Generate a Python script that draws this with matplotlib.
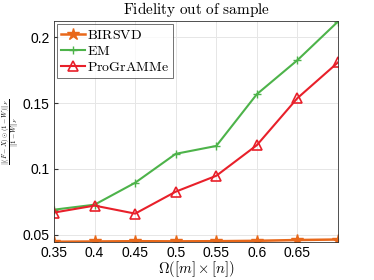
import matplotlib

matplotlib.use("Agg")
import matplotlib.pyplot as plt

plt.rcParams["mathtext.fontset"] = "cm"
plt.rcParams["font.family"] = ["Liberation Sans", "DejaVu Sans"]

omega = [0.35, 0.4, 0.45, 0.5, 0.55, 0.6, 0.65, 0.7]
birsvd = [0.0445, 0.0447, 0.0449, 0.0448, 0.0449, 0.0452, 0.0458, 0.0462]
em = [0.0689, 0.0727, 0.0894, 0.1114, 0.1174, 0.1568, 0.1827, 0.2121]
programme = [0.0667, 0.0720, 0.0659, 0.0826, 0.0947, 0.1180, 0.1538, 0.1810]
xtick_labels = ["0.35", "0.4", "0.45", "0.5", "0.55", "0.6", "0.65"]

fig = plt.figure(figsize=(3.74, 2.8), dpi=100)
ax = fig.add_axes([54 / 374, 1 - 242 / 280, 284 / 374, 221 / 280])

ax.plot(omega, birsvd, color="#E8681A", marker="*", markersize=9, lw=1.8,
        label=r"$\mathrm{BIRSVD}$")
ax.plot(omega, em, color="#4DB34A", marker="+", markersize=6, lw=1.5,
        label=r"$\mathrm{EM}$")
ax.plot(omega, programme, color="#E8202A", marker="^", markersize=7, lw=1.5,
        markerfacecolor="none", markeredgewidth=1.2,
        label=r"$\mathrm{ProGrAMMe}$")

ax.set_xlim(0.35, 0.7)
ax.set_ylim(0.0443, 0.2125)
ax.set_xticks(omega)
ax.set_xticklabels(xtick_labels + [""])
ax.set_yticks([0.05, 0.1, 0.15, 0.2])
ax.set_yticklabels(["0.05", "0.1", "0.15", "0.2"])
ax.tick_params(labelsize=10, direction="in", length=3, color="#333333", pad=3)
ax.grid(True, color="#e6e6e6", lw=0.7)
ax.set_axisbelow(True)
for s in ax.spines.values():
    s.set_color("#333333")
    s.set_linewidth(0.6)

ax.set_title(r"$\mathrm{Fidelity\ out\ of\ sample}$", fontsize=11, pad=5)
ax.set_xlabel(r"$\Omega([m]\times[n])$", fontsize=10.5, labelpad=-1)
# y label placed by hand so the tall fraction stays inside the figure
fig.text(11 / 374, 1 - 131.5 / 280,
         r"$\frac{\|(F-X)\odot(\mathbf{1}-W)\|_F}{\|\mathbf{1}-W\|_F}$",
         fontsize=7, rotation=90, ha="center", va="center")

leg = ax.legend(loc="upper left", fontsize=10,
                frameon=True, fancybox=False, edgecolor="#333333",
                handlelength=1.7, borderaxespad=0.25, labelspacing=0.15,
                borderpad=0.25, handletextpad=0.2)
leg.get_frame().set_linewidth(0.6)

fig.savefig("out.png", dpi=100)
